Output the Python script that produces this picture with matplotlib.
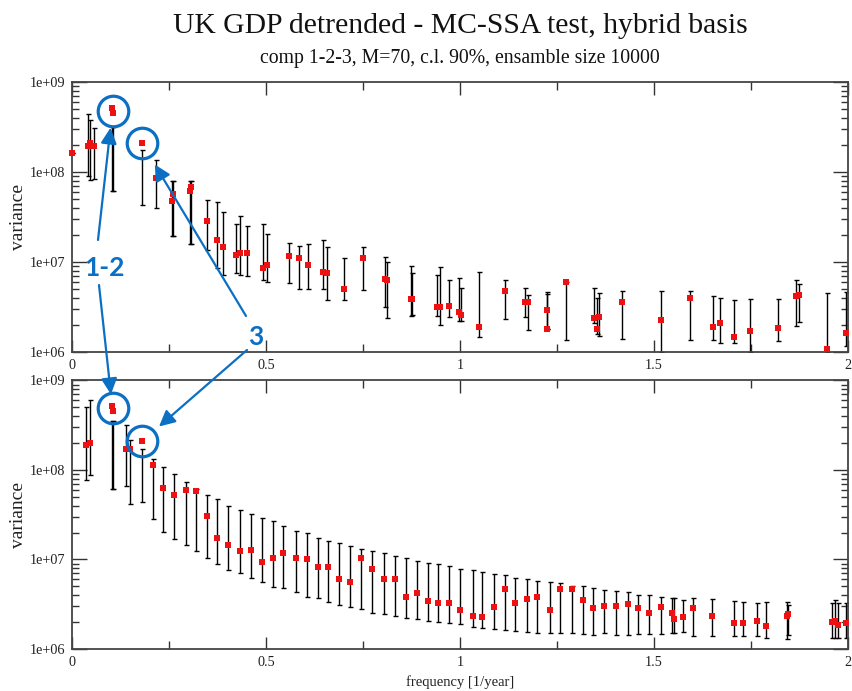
import numpy as np
import matplotlib
matplotlib.use("Agg")
import matplotlib.pyplot as plt
from matplotlib.ticker import MultipleLocator, LogLocator, FuncFormatter, NullFormatter

# --- MC-SSA results, components 1-2-3 -------------------------------------
# upper panel
freq_top = [0.0, 0.042, 0.047, 0.058, 0.104, 0.106, 0.180, 0.216, 0.257, 0.260,
            0.304, 0.307, 0.349, 0.373, 0.388, 0.422, 0.433, 0.452, 0.491, 0.503,
            0.560, 0.586, 0.609, 0.648, 0.656, 0.701, 0.749, 0.808, 0.813, 0.873,
            0.877, 0.940, 0.948, 0.972, 0.998, 1.003, 1.050, 1.116, 1.168, 1.174,
            1.223, 1.224, 1.272, 1.345, 1.354, 1.359, 1.417, 1.517, 1.593, 1.651,
            1.670, 1.706, 1.747, 1.819, 1.867, 1.874, 1.945, 1.995]
var_top = [1.65e8, 1.95e8, 2.1e8, 1.97e8, 5.1e8, 4.5e8, 2.1e8, 8.6e7, 4.8e7, 5.75e7,
           6.1e7, 6.8e7, 2.9e7, 1.75e7, 1.47e7, 1.22e7, 1.26e7, 1.26e7, 8.65e6, 9.35e6,
           1.16e7, 1.13e7, 9.4e6, 7.8e6, 7.6e6, 5.1e6, 1.12e7, 6.6e6, 6.4e6, 3.9e6,
           3.9e6, 3.2e6, 3.2e6, 3.3e6, 2.8e6, 2.6e6, 1.9e6, 4.8e6, 3.6e6, 3.67e6,
           2.95e6, 1.83e6, 6.0e6, 2.42e6, 1.83e6, 2.48e6, 3.67e6, 2.28e6, 4.0e6, 1.92e6,
           2.13e6, 1.48e6, 1.75e6, 1.85e6, 4.24e6, 4.35e6, 1.1e6, 1.65e6]
lo_top = [1.65e8, 8.95e7, 8.2e7, 8.4e7, 6.1e7, 6.1e7, 4.35e7, 4.05e7, 1.94e7, 1.94e7,
          1.61e7, 1.61e7, 1.36e7, 8.6e6, 7.3e6, 7.6e6, 7.3e6, 7.0e6, 6.3e6, 6.0e6,
          5.9e6, 5.0e6, 5.07e6, 5.07e6, 3.8e6, 3.86e6, 4.98e6, 3.2e6, 2.42e6, 2.57e6,
          2.6e6, 2.52e6, 2.0e6, 2.48e6, 2.22e6, 2.22e6, 1.49e6, 2.36e6, 2.48e6, 1.77e6,
          1.83e6, 1.8e6, 1.39e6, 2.13e6, 1.6e6, 1.54e6, 1.42e6, 1.0e6, 1.39e6, 1.37e6,
          1.26e6, 1.26e6, 1.0e6, 1.34e6, 1.95e6, 2.19e6, 1.0e6, 1.17e6]
hi_top = [1.65e8, 4.4e8, 3.8e8, 3.1e8, 3.2e8, 3.2e8, 1.74e8, 1.35e8, 7.9e7, 7.9e7,
          7.9e7, 7.9e7, 4.9e7, 4.65e7, 3.6e7, 2.66e7, 3.26e7, 2.5e7, 2.66e7, 2.06e7,
          1.64e7, 1.5e7, 1.6e7, 1.78e7, 1.47e7, 1.12e7, 1.47e7, 1.15e7, 1.02e7, 9.0e6,
          7.6e6, 7.3e6, 8.9e6, 6.3e6, 6.7e6, 5.2e6, 7.75e6, 6.4e6, 5.2e6, 4.39e6,
          4.66e6, 4.4e6, 6.0e6, 5.2e6, 4.0e6, 4.57e6, 4.78e6, 4.78e6, 4.78e6, 4.24e6,
          3.98e6, 3.86e6, 3.93e6, 3.93e6, 6.43e6, 5.8e6, 4.57e6, 4.66e6]

# lower panel
freq_bot = [0.036, 0.046, 0.104, 0.106, 0.139, 0.149, 0.181, 0.210, 0.235, 0.264,
            0.293, 0.320, 0.349, 0.375, 0.403, 0.433, 0.461, 0.490, 0.517, 0.545,
            0.577, 0.605, 0.633, 0.661, 0.689, 0.716, 0.744, 0.774, 0.804, 0.832,
            0.860, 0.888, 0.917, 0.944, 0.972, 1.000, 1.033, 1.058, 1.088, 1.116,
            1.143, 1.172, 1.199, 1.233, 1.259, 1.288, 1.316, 1.342, 1.371, 1.402,
            1.432, 1.460, 1.486, 1.518, 1.547, 1.552, 1.576, 1.600, 1.650, 1.706,
            1.730, 1.766, 1.788, 1.842, 1.846, 1.960, 1.966, 1.975, 1.995]
var_bot = [1.88e8, 2.02e8, 5.2e8, 4.57e8, 1.73e8, 1.73e8, 2.1e8, 1.15e8, 6.3e7, 5.3e7,
           5.9e7, 5.8e7, 3.07e7, 1.76e7, 1.44e7, 1.25e7, 1.29e7, 9.3e6, 1.03e7, 1.19e7,
           1.05e7, 1.0e7, 8.2e6, 8.2e6, 6.0e6, 5.6e6, 1.04e7, 7.9e6, 6.0e6, 6.0e6,
           3.84e6, 4.26e6, 3.44e6, 3.24e6, 3.29e6, 2.73e6, 2.34e6, 2.26e6, 2.97e6, 4.65e6,
           3.29e6, 3.65e6, 3.78e6, 2.73e6, 4.65e6, 4.65e6, 3.52e6, 2.85e6, 3.05e6, 3.05e6,
           3.15e6, 2.85e6, 2.51e6, 2.97e6, 2.51e6, 2.15e6, 2.26e6, 2.85e6, 2.34e6, 1.94e6,
           1.94e6, 2.07e6, 1.81e6, 2.34e6, 2.46e6, 2.02e6, 2.06e6, 1.86e6, 1.97e6]
lo_bot = [7.8e7, 8.7e7, 6.2e7, 6.2e7, 6.7e7, 4.15e7, 4.4e7, 2.8e7, 2.04e7, 1.69e7,
          1.47e7, 1.24e7, 1.05e7, 8.9e6, 7.6e6, 7.0e6, 6.15e6, 5.65e6, 4.97e6, 4.76e6,
          4.37e6, 3.84e6, 3.74e6, 3.32e6, 3.10e6, 2.92e6, 2.80e6, 2.55e6, 2.44e6, 2.34e6,
          2.24e6, 2.15e6, 2.06e6, 2.02e6, 1.94e6, 1.89e6, 1.78e6, 1.71e6, 1.66e6, 1.63e6,
          1.59e6, 1.56e6, 1.52e6, 1.49e6, 1.49e6, 1.49e6, 1.47e6, 1.44e6, 1.49e6, 1.44e6,
          1.44e6, 1.47e6, 1.47e6, 1.47e6, 1.49e6, 1.49e6, 1.56e6, 1.40e6, 1.40e6, 1.38e6,
          1.38e6, 1.40e6, 1.32e6, 1.28e6, 1.44e6, 1.32e6, 1.32e6, 1.32e6, 1.32e6]
hi_bot = [5.0e8, 6.0e8, 3.5e8, 3.5e8, 3.15e8, 2.14e8, 1.73e8, 1.34e8, 1.08e8, 9.1e7,
          7.4e7, 6.2e7, 5.3e7, 4.7e7, 4.0e7, 3.6e7, 3.2e7, 2.87e7, 2.68e7, 2.38e7,
          2.09e7, 1.99e7, 1.76e7, 1.60e7, 1.51e7, 1.42e7, 1.31e7, 1.24e7, 1.17e7, 1.10e7,
          1.03e7, 9.7e6, 9.2e6, 9.0e6, 8.4e6, 7.9e6, 7.7e6, 7.3e6, 6.8e6, 6.7e6,
          6.25e6, 6.0e6, 5.8e6, 5.55e6, 5.4e6, 5.1e6, 5.0e6, 4.75e6, 4.56e6, 4.45e6,
          4.3e6, 4.0e6, 4.0e6, 3.78e6, 3.68e6, 3.68e6, 3.52e6, 3.68e6, 3.6e6, 3.47e6,
          3.37e6, 3.28e6, 3.37e6, 3.37e6, 3.1e6, 3.24e6, 3.52e6, 3.24e6, 3.24e6]

# indices of the significant pairs (components 1-2 and component 3)
pair_top, third_top = [4, 5], 6
pair_bot, third_bot = [2, 3], 6

BLUE = '#0b6fc3'
RED = '#ee1111'
INK = '#222222'

plt.rcParams['font.family'] = ['Liberation Serif', 'DejaVu Serif']

fig = plt.figure(figsize=(8.52, 6.91), dpi=100)
ax_top = fig.add_axes([0.0845, 0.4899, 0.9108, 0.3915])
ax_bot = fig.add_axes([0.0845, 0.0608, 0.9108, 0.3886])


def draw_panel(ax, freq, var, lo, hi):
    ax.vlines(freq, lo, hi, color='black', lw=1.0, zorder=2)
    ax.plot(freq, lo, '_', color='black', ms=3.6, mew=1.0, zorder=2)
    ax.plot(freq, hi, '_', color='black', ms=3.6, mew=1.0, zorder=2)
    ax.plot(freq, var, 's', color=RED, ms=4.6, mew=0, zorder=3, clip_on=False)

    ax.set_yscale('log')
    ax.set_xlim(0, 2)
    ax.set_ylim(1e6, 1e9)
    ax.xaxis.set_major_locator(MultipleLocator(0.5))
    ax.xaxis.set_minor_locator(MultipleLocator(0.25))
    ax.xaxis.set_major_formatter(FuncFormatter(lambda v, p: f'{v:g}'))
    ax.yaxis.set_major_locator(LogLocator(base=10, numticks=10))
    ax.yaxis.set_minor_locator(LogLocator(base=10, subs=range(2, 10), numticks=20))
    ax.yaxis.set_major_formatter(FuncFormatter(lambda v, p: f'{v:.0e}'))
    ax.yaxis.set_minor_formatter(NullFormatter())

    ax.tick_params(which='both', direction='in', top=True, right=True,
                   color='#333333', width=1.0, labelsize=10.3, labelcolor=INK, pad=5)
    ax.tick_params(axis='x', which='major', length=9)
    ax.tick_params(axis='x', which='minor', length=6)
    ax.tick_params(axis='y', which='major', length=10.5)
    ax.tick_params(axis='y', which='minor', length=5)
    for s in ax.spines.values():
        s.set_color('#444444')
        s.set_linewidth(1.3)

    ax.set_ylabel('variance', fontsize=14, color=INK)
    ax.yaxis.set_label_coords(-0.058, 0.5)


def ring(ax, idx, freq, var):
    fx = np.mean([freq[i] for i in idx])
    fy = np.exp(np.mean([np.log(var[i]) for i in idx]))
    ax.plot(fx, fy, 'o', ms=22, mfc='none', mec=BLUE, mew=2.3,
            zorder=4, clip_on=False)


def arrow(ax, x, y, start, shrink):
    ax.annotate('', xy=(x, y), xytext=start, textcoords='figure pixels',
                arrowprops=dict(arrowstyle='-|>', color=BLUE, lw=1.6,
                                mutation_scale=24, shrinkA=0, shrinkB=shrink),
                annotation_clip=False, zorder=5)


draw_panel(ax_top, freq_top, var_top, lo_top, hi_top)
draw_panel(ax_bot, freq_bot, var_bot, lo_bot, hi_bot)

ax_bot.set_xlabel('frequency [1/year]', fontsize=10.5, color=INK)
ax_bot.xaxis.set_label_coords(0.5, -0.098)

fig.text(0.54, 0.9522, 'UK GDP detrended - MC-SSA test, hybrid basis',
         ha='center', va='baseline', fontsize=21.3, color='#111111')
fig.text(0.54, 0.9088, 'comp 1-2-3, M=70, c.l. 90%, ensamble size 10000',
         ha='center', va='baseline', fontsize=14.2, color='#111111')

# highlight components 1-2 and 3 in both panels
ring(ax_top, pair_top, freq_top, var_top)
ring(ax_top, [third_top], freq_top, var_top)
ring(ax_bot, pair_bot, freq_bot, var_bot)
ring(ax_bot, [third_bot], freq_bot, var_bot)

arrow(ax_top, np.mean([freq_top[i] for i in pair_top]), var_top[pair_top[0]], (98, 451), 14)
arrow(ax_bot, np.mean([freq_bot[i] for i in pair_bot]), var_bot[pair_bot[1]], (99, 406), 12)
arrow(ax_top, freq_top[third_top], var_top[third_top], (246, 375), 18)
arrow(ax_bot, freq_bot[third_bot], var_bot[third_bot], (247, 341), 16)

fig.text(105 / 852, 423 / 691, '1-2', ha='center', va='center', fontsize=19,
         fontweight='bold', family=['Lato', 'DejaVu Sans'], color=BLUE)
fig.text(256 / 852, 354 / 691, '3', ha='center', va='center', fontsize=19,
         fontweight='bold', family=['Lato', 'DejaVu Sans'], color=BLUE)

fig.savefig('out.png', dpi=100)
